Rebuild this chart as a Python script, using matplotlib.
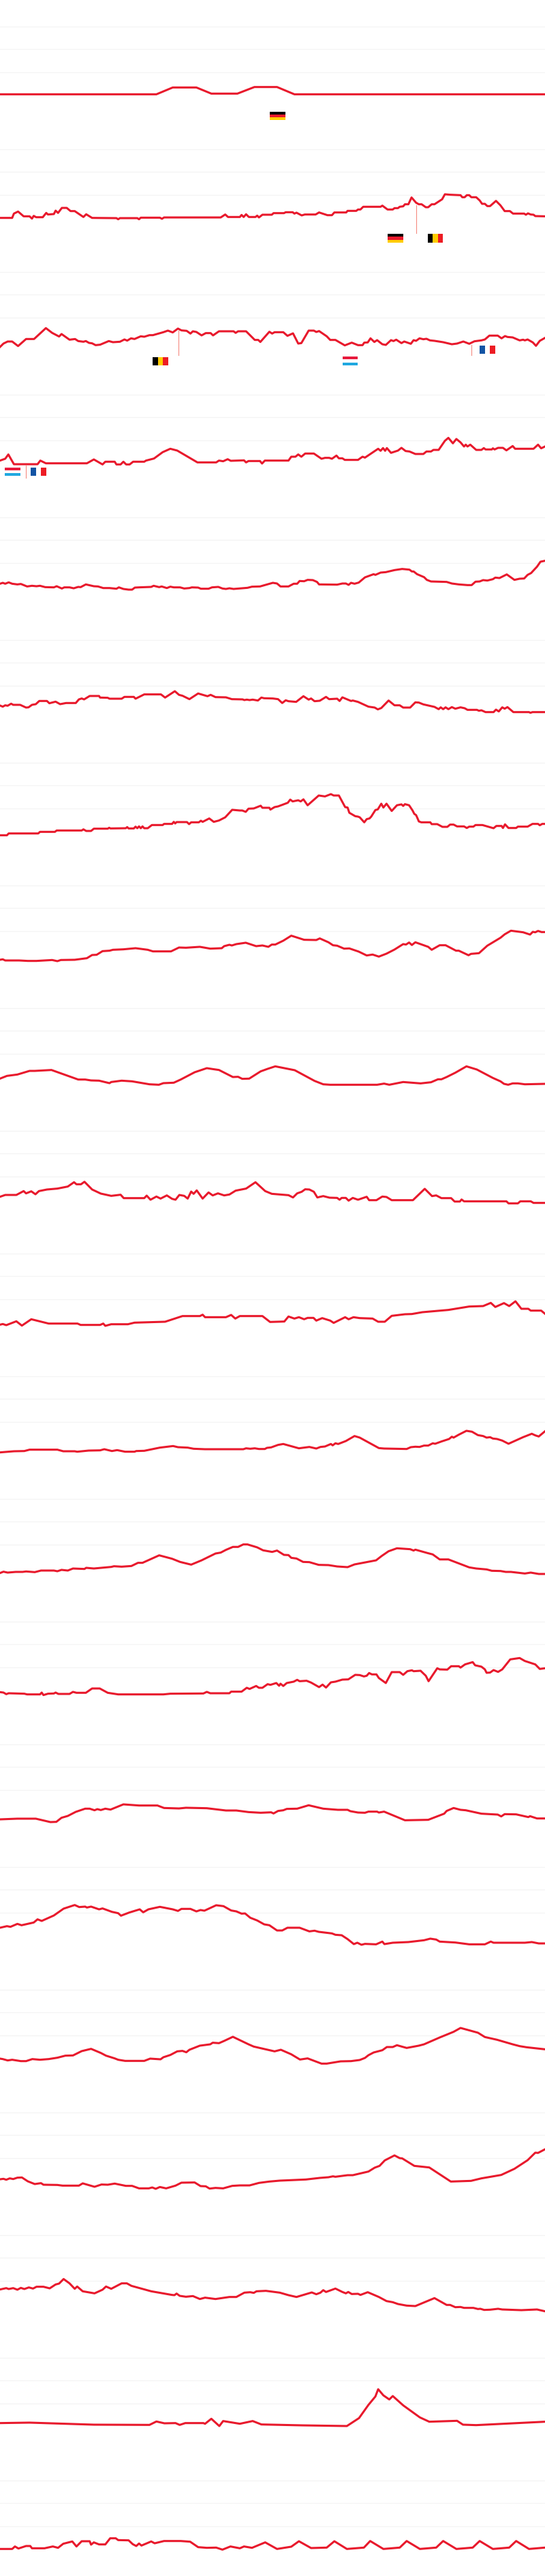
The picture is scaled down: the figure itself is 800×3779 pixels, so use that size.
import matplotlib
matplotlib.use("Agg")
import matplotlib.pyplot as plt
from matplotlib.patches import Rectangle

# one line per row, (x, value), value 0 is the lowest gridline of the row
series_01 = [(0,-98),(450,-98),(497,-68),(565,-68),(608,-95),(683,-95),(732,-66),(797,-66),(847,-98),(1568,-98)]
series_02 = [(0,-102),(35,-102),(40,-83),(52,-74),(68,-95),(85,-95),(92,-105),(97,-93),(104,-99),(123,-99),(133,-80),(138,-87),(155,-85),(160,-70),(167,-80),(178,-58),(192,-58),(203,-72),(215,-72),(240,-98),(248,-86),(265,-102),(335,-103),(340,-108),(345,-103),(395,-103),(400,-108),(405,-101),(460,-101),(466,-106),(472,-100),(635,-100),(648,-87),(656,-98),(690,-98),(695,-89),(701,-98),(708,-86),(716,-98),(735,-98),(740,-92),(745,-100),(755,-88),(782,-88),(787,-81),(817,-81),(822,-77),(842,-77),(847,-83),(853,-79),(868,-91),(877,-87),(908,-87),(918,-78),(942,-90),(955,-90),(962,-78),(996,-78),(1000,-71),(1025,-71),(1030,-65),(1037,-65),(1045,-53),(1095,-53),(1100,-48),(1115,-65),(1130,-65),(1135,-59),(1145,-59),(1150,-53),(1160,-51),(1165,-42),(1175,-42),(1184,-12),(1197,-35),(1205,-42),(1213,-42),(1225,-55),(1232,-55),(1242,-42),(1250,-42),(1272,-20),(1280,2),(1295,0),(1325,-2),(1330,-11),(1337,-11),(1343,-2),(1350,-2),(1356,-11),(1370,-11),(1380,-25),(1387,-40),(1395,-40),(1402,-50),(1410,-50),(1427,-27),(1440,-47),(1452,-72),(1467,-72),(1476,-83),(1508,-83),(1513,-88),(1519,-82),(1527,-87),(1535,-88),(1540,-94),(1568,-95)]
series_03 = [(0,-130),(10,-115),(22,-106),(35,-106),(52,-126),(75,-95),(98,-95),(132,-47),(150,-68),(170,-84),(177,-73),(200,-98),(216,-95),(225,-104),(240,-107),(247,-104),(256,-112),(265,-114),(275,-122),(288,-120),(313,-104),(325,-109),(345,-107),(358,-97),(366,-102),(377,-92),(387,-95),(405,-83),(415,-85),(430,-78),(440,-78),(470,-65),(483,-58),(497,-66),(512,-49),(522,-57),(537,-59),(548,-71),(555,-61),(565,-64),(580,-79),(592,-69),(606,-69),(613,-79),(630,-61),(672,-61),(678,-68),(685,-61),(708,-61),(733,-99),(743,-99),(749,-108),(775,-63),(783,-71),(790,-65),(815,-65),(827,-81),(843,-70),(858,-115),(867,-113),(888,-58),(903,-58),(910,-64),(918,-60),(940,-83),(950,-99),(965,-99),(992,-123),(1012,-111),(1030,-122),(1043,-122),(1048,-111),(1058,-110),(1066,-92),(1077,-108),(1085,-100),(1100,-118),(1110,-121),(1125,-100),(1132,-104),(1140,-98),(1155,-113),(1163,-106),(1182,-116),(1190,-100),(1197,-103),(1207,-92),(1218,-96),(1227,-94),(1237,-101),(1250,-103),(1275,-109),(1300,-118),(1315,-115),(1333,-106),(1350,-116),(1365,-105),(1385,-101),(1395,-97),(1408,-80),(1432,-80),(1443,-92),(1453,-82),(1460,-86),(1475,-88),(1495,-101),(1505,-98),(1510,-101),(1518,-97),(1533,-110),(1542,-125),(1553,-103),(1568,-90)]
series_04 = [(0,-90),(15,-82),(24,-63),(40,-106),(108,-106),(116,-90),(132,-102),(250,-102),(270,-85),(295,-107),(303,-95),(330,-95),(335,-107),(347,-107),(355,-95),(363,-107),(373,-107),(383,-95),(415,-95),(420,-90),(443,-81),(468,-53),(490,-38),(510,-46),(568,-98),(622,-98),(630,-90),(642,-93),(655,-84),(664,-91),(702,-89),(708,-98),(715,-92),(748,-92),(754,-103),(762,-90),(830,-90),(838,-73),(850,-73),(858,-63),(867,-73),(878,-59),(903,-59),(925,-82),(935,-78),(947,-78),(955,-82),(968,-68),(975,-80),(985,-80),(992,-87),(1030,-87),(1043,-73),(1050,-77),(1088,-38),(1095,-47),(1102,-35),(1108,-47),(1113,-35),(1125,-56),(1145,-46),(1155,-34),(1167,-48),(1178,-50),(1195,-61),(1218,-61),(1227,-50),(1240,-50),(1247,-43),(1262,-43),(1280,-3),(1290,10),(1303,-14),(1313,5),(1325,-10),(1335,-28),(1340,-20),(1345,-28),(1353,-20),(1370,-43),(1385,-43),(1392,-35),(1397,-41),(1415,-41),(1418,-36),(1423,-41),(1433,-34),(1447,-34),(1457,-45),(1475,-26),(1482,-38),(1535,-38),(1548,-20),(1557,-36),(1568,-28)]
series_05 = [(0,-92),(8,-88),(15,-92),(25,-86),(35,-92),(50,-95),(60,-93),(78,-104),(92,-101),(105,-103),(115,-101),(130,-107),(155,-108),(163,-103),(178,-113),(185,-108),(200,-108),(212,-112),(225,-106),(232,-107),(247,-95),(270,-103),(282,-104),(297,-111),(315,-111),(335,-114),(342,-108),(355,-115),(370,-118),(380,-118),(388,-109),(400,-108),(435,-106),(442,-101),(458,-107),(465,-104),(480,-111),(490,-105),(500,-108),(518,-108),(530,-113),(545,-111),(552,-108),(570,-109),(578,-114),(600,-114),(610,-108),(628,-106),(640,-113),(650,-115),(660,-112),(672,-115),(712,-110),(725,-105),(748,-104),(785,-88),(797,-91),(807,-104),(830,-104),(845,-92),(855,-92),(862,-80),(875,-81),(885,-75),(900,-76),(912,-84),(918,-95),(970,-96),(985,-91),(995,-91),(1003,-97),(1010,-88),(1020,-92),(1032,-87),(1050,-64),(1075,-50),(1080,-53),(1095,-43),(1110,-41),(1135,-32),(1157,-27),(1178,-30),(1185,-38),(1190,-38),(1200,-50),(1220,-63),(1228,-75),(1240,-82),(1285,-84),(1300,-91),(1320,-95),(1345,-98),(1357,-98),(1368,-83),(1380,-82),(1390,-76),(1402,-78),(1418,-72),(1425,-65),(1437,-67),(1458,-51),(1480,-75),(1495,-70),(1508,-69),(1518,-53),(1528,-45),(1545,-17),(1555,5),(1568,9)]
series_06 = [(0,-88),(8,-93),(15,-87),(22,-89),(32,-80),(38,-85),(58,-85),(75,-97),(82,-96),(92,-85),(103,-82),(113,-68),(135,-68),(142,-78),(160,-71),(173,-82),(190,-77),(218,-77),(227,-61),(235,-57),(242,-61),(258,-46),(285,-46),(288,-53),(310,-54),(315,-58),(350,-58),(358,-50),(385,-50),(390,-58),(415,-39),(463,-39),(475,-53),(503,-25),(515,-41),(525,-45),(545,-60),(570,-35),(597,-47),(606,-41),(620,-51),(650,-52),(667,-60),(698,-61),(703,-64),(710,-62),(718,-64),(727,-62),(742,-66),(752,-53),(760,-56),(785,-57),(800,-60),(812,-77),(822,-65),(830,-69),(852,-72),(873,-47),(888,-62),(895,-57),(905,-69),(920,-67),(938,-50),(947,-60),(970,-58),(977,-68),(985,-52),(1010,-68),(1015,-66),(1030,-72),(1060,-93),(1078,-97),(1087,-105),(1097,-99),(1118,-66),(1135,-87),(1150,-87),(1160,-97),(1180,-97),(1195,-74),(1205,-75),(1218,-83),(1250,-94),(1262,-104),(1268,-96),(1275,-104),(1282,-96),(1290,-104),(1300,-95),(1310,-102),(1325,-96),(1337,-100),(1345,-107),(1372,-107),(1378,-111),(1385,-109),(1397,-117),(1420,-117),(1427,-106),(1435,-114),(1445,-96),(1452,-102),(1460,-95),(1477,-117),(1522,-117),(1526,-120),(1532,-117),(1568,-117)]
series_07 = [(0,-119),(20,-119),(25,-111),(110,-111),(115,-104),(158,-104),(163,-98),(235,-98),(240,-93),(248,-100),(262,-100),(270,-90),(310,-90),(314,-86),(318,-89),(362,-88),(366,-83),(370,-89),(385,-89),(390,-81),(395,-88),(400,-80),(405,-88),(410,-80),(415,-88),(425,-88),(437,-74),(468,-74),(472,-69),(495,-69),(500,-60),(504,-67),(508,-61),(538,-61),(544,-70),(550,-62),(572,-62),(578,-55),(583,-60),(602,-45),(615,-60),(630,-54),(648,-40),(668,-7),(690,-10),(697,-10),(707,-16),(715,-2),(730,-1),(750,11),(755,2),(775,2),(778,-6),(790,5),(800,8),(828,24),(835,38),(842,30),(858,35),(865,30),(873,39),(885,13),(917,56),(935,52),(952,62),(960,56),(975,56),(993,5),(1000,3),(1005,-20),(1022,-35),(1030,-37),(1035,-40),(1048,-62),(1055,-48),(1063,-45),(1068,-37),(1080,-8),(1087,-5),(1097,20),(1103,3),(1112,20),(1127,-12),(1142,13),(1155,17),(1160,10),(1165,18),(1177,13),(1187,-10),(1192,-25),(1197,-30),(1200,-40),(1205,-58),(1212,-62),(1238,-62),(1242,-70),(1258,-70),(1273,-82),(1287,-82),(1295,-72),(1305,-72),(1315,-80),(1335,-80),(1343,-87),(1350,-81),(1362,-81),(1368,-74),(1388,-74),(1420,-88),(1428,-78),(1443,-78),(1447,-87),(1453,-71),(1463,-87),(1485,-87),(1490,-81),(1518,-81),(1532,-69),(1548,-69),(1553,-75),(1560,-69),(1568,-69)]
series_08 = [(0,-127),(8,-125),(15,-130),(55,-130),(80,-132),(105,-132),(150,-128),(165,-133),(175,-128),(215,-127),(250,-120),(265,-106),(278,-105),(295,-89),(315,-87),(325,-83),(355,-81),(390,-76),(425,-83),(440,-90),(492,-90),(515,-73),(535,-74),(575,-70),(605,-78),(638,-76),(645,-67),(660,-61),(667,-64),(680,-58),(707,-52),(737,-67),(755,-64),(772,-70),(782,-60),(792,-60),(815,-43),(838,-21),(875,-39),(910,-40),(920,-33),(945,-50),(958,-63),(970,-65),(990,-78),(1005,-77),(1032,-91),(1055,-108),(1072,-104),(1090,-113),(1112,-100),(1135,-82),(1160,-58),(1168,-60),(1177,-51),(1185,-62),(1195,-50),(1232,-70),(1242,-83),(1265,-63),(1282,-63),(1312,-87),(1320,-87),(1348,-107),(1355,-101),(1378,-98),(1402,-65),(1440,-30),(1452,-15),(1470,1),(1505,-6),(1525,-16),(1533,-4),(1540,-6),(1548,0),(1558,-5),(1568,-5)]
series_09 = [(0,-110),(20,-98),(50,-92),(85,-76),(100,-76),(148,-72),(225,-114),(245,-114),(262,-118),(285,-119),(315,-130),(320,-125),(350,-119),(380,-122),(430,-135),(457,-137),(470,-130),(500,-128),(520,-114),(560,-82),(595,-64),(612,-68),(630,-72),(670,-103),(685,-102),(697,-111),(717,-110),(750,-78),(770,-67),(792,-56),(848,-73),(905,-120),(930,-135),(950,-137),(1085,-137),(1105,-132),(1120,-137),(1160,-125),(1210,-131),(1240,-126),(1260,-113),(1270,-113),(1285,-103),(1310,-84),(1342,-56),(1372,-70),(1418,-107),(1440,-122),(1450,-133),(1462,-137),(1475,-131),(1490,-131),(1510,-135),(1568,-133)]
series_10 = [(0,-90),(15,-82),(47,-82),(68,-65),(75,-75),(90,-66),(102,-79),(112,-65),(135,-58),(165,-54),(195,-45),(213,-26),(220,-35),(233,-35),(243,-24),(265,-58),(290,-76),(320,-86),(347,-81),(356,-96),(415,-96),(422,-85),(433,-103),(450,-89),(462,-98),(480,-84),(495,-99),(505,-103),(516,-82),(530,-86),(540,-98),(550,-67),(557,-77),(566,-62),(583,-98),(600,-71),(612,-84),(627,-75),(645,-84),(660,-80),(678,-63),(708,-54),(735,-26),(763,-65),(782,-77),(830,-83),(843,-93),(855,-75),(868,-68),(878,-57),(890,-58),(903,-68),(913,-93),(930,-87),(948,-94),(970,-95),(977,-103),(983,-95),(995,-95),(1003,-107),(1015,-95),(1030,-103),(1055,-90),(1062,-105),(1083,-105),(1100,-89),(1112,-91),(1127,-105),(1188,-105),(1222,-55),(1243,-87),(1255,-84),(1270,-96),(1298,-96),(1308,-111),(1323,-111),(1328,-102),(1335,-110),(1457,-110),(1463,-119),(1490,-119),(1497,-110),(1527,-110),(1535,-117),(1568,-117)]
series_11 = [(0,-113),(8,-110),(18,-115),(47,-98),(63,-117),(90,-89),(140,-108),(223,-108),(232,-114),(288,-114),(297,-108),(303,-118),(320,-111),(368,-111),(387,-104),(475,-100),(525,-75),(575,-75),(583,-69),(590,-80),(650,-80),(665,-70),(677,-86),(690,-75),(755,-75),(777,-101),(818,-99),(830,-77),(847,-86),(860,-80),(875,-89),(885,-83),(902,-83),(910,-95),(927,-84),(950,-95),(960,-105),(993,-80),(1003,-89),(1017,-80),(1035,-84),(1072,-86),(1088,-100),(1107,-100),(1127,-74),(1165,-67),(1185,-66),(1215,-58),(1290,-48),(1350,-33),(1390,-31),(1412,-17),(1425,-35),(1450,-18),(1465,-31),(1483,-10),(1500,-43),(1520,-43),(1527,-51),(1557,-51),(1568,-65)]
series_12 = [(0,-135),(40,-130),(70,-129),(85,-123),(165,-123),(182,-130),(215,-130),(222,-132),(255,-127),(288,-126),(300,-121),(322,-129),(337,-125),(360,-132),(387,-132),(392,-129),(415,-128),(460,-114),(498,-107),(512,-112),(540,-114),(557,-119),(590,-121),(700,-121),(708,-117),(720,-119),(733,-117),(745,-120),(762,-120),(768,-115),(780,-113),(800,-102),(815,-98),(860,-117),(890,-111),(910,-118),(922,-111),(935,-109),(952,-98),(957,-104),(965,-95),(973,-98),(995,-85),(1020,-63),(1035,-70),(1090,-116),(1105,-118),(1170,-120),(1182,-112),(1195,-110),(1207,-111),(1220,-105),(1232,-105),(1245,-95),(1252,-97),(1270,-87),(1292,-76),(1300,-66),(1305,-70),(1320,-57),(1342,-40),(1358,-44),(1375,-59),(1390,-63),(1400,-70),(1410,-68),(1418,-74),(1430,-76),(1445,-83),(1463,-97),(1505,-68),(1530,-53),(1540,-60),(1550,-65),(1568,-42)]
series_13 = [(0,-126),(10,-120),(22,-124),(45,-121),(65,-121),(75,-119),(100,-122),(118,-115),(155,-115),(165,-118),(177,-112),(195,-115),(210,-106),(243,-108),(248,-103),(270,-106),(320,-99),(328,-96),(350,-98),(378,-95),(397,-81),(410,-81),(458,-48),(495,-63),(518,-77),(550,-89),(580,-70),(620,-40),(635,-36),(650,-24),(670,-11),(685,-11),(700,0),(712,0),(740,-13),(757,-26),(783,-33),(797,-27),(817,-46),(830,-47),(838,-59),(853,-62),(872,-77),(890,-78),(917,-90),(945,-91),(970,-97),(1000,-100),(1020,-88),(1082,-70),(1098,-51),(1118,-30),(1142,-17),(1180,-21),(1190,-27),(1195,-23),(1230,-38),(1245,-44),(1265,-66),(1290,-66),(1350,-101),(1370,-106),(1400,-110),(1415,-116),(1440,-117),(1455,-121),(1470,-121),(1510,-128),(1527,-124),(1550,-130),(1568,-130)]
series_14 = [(0,-110),(10,-112),(18,-119),(25,-115),(70,-117),(78,-120),(115,-120),(120,-112),(125,-123),(138,-117),(155,-116),(160,-112),(168,-118),(200,-118),(210,-109),(220,-113),(247,-113),(265,-94),(287,-94),(310,-113),(340,-120),(470,-120),(490,-117),(585,-116),(595,-109),(605,-115),(660,-115),(665,-108),(695,-108),(710,-91),(718,-96),(737,-83),(745,-91),(755,-91),(770,-75),(778,-78),(795,-70),(803,-82),(807,-73),(815,-83),(825,-70),(845,-64),(855,-56),(862,-62),(882,-60),(895,-68),(918,-88),(928,-77),(938,-90),(952,-67),(965,-64),(985,-55),(1002,-54),(1022,-34),(1035,-35),(1047,-41),(1055,-38),(1062,-26),(1070,-32),(1083,-32),(1090,-48),(1110,-70),(1127,-22),(1150,-22),(1160,-34),(1172,-18),(1185,-14),(1190,-18),(1210,-16),(1225,-38),(1233,-62),(1258,-5),(1265,-10),(1287,-11),(1298,4),(1320,4),(1325,-2),(1338,12),(1360,22),(1367,8),(1385,2),(1395,-10),(1400,-25),(1410,-24),(1420,-13),(1433,-21),(1445,-10),(1468,34),(1495,40),(1510,27),(1540,12),(1553,-8),(1568,-5)]
series_15 = [(0,-130),(50,-127),(103,-127),(145,-142),(162,-141),(177,-123),(195,-115),(218,-97),(245,-83),(258,-83),(272,-90),(280,-85),(290,-89),(303,-83),(318,-87),(355,-64),(400,-69),(453,-69),(472,-80),(515,-82),(535,-79),(595,-81),(650,-91),(680,-91),(715,-98),(750,-101),(780,-99),(787,-104),(800,-93),(815,-90),(825,-84),(855,-83),(888,-68),(930,-83),(972,-88),(1000,-88),(1008,-94),(1030,-100),(1050,-101),(1060,-96),(1085,-96),(1090,-100),(1105,-96),(1165,-134),(1232,-132),(1278,-105),(1285,-93),(1305,-80),(1325,-88),(1340,-90),(1385,-105),(1432,-109),(1442,-117),(1452,-107),(1485,-108),(1520,-120),(1525,-116),(1545,-126),(1568,-126)]
series_16 = [(0,-67),(20,-60),(30,-63),(50,-50),(62,-56),(97,-44),(108,-30),(120,-37),(155,-13),(183,17),(215,33),(228,24),(245,26),(250,22),(262,26),(285,14),(295,18),(322,3),(340,-3),(348,-14),(372,0),(402,14),(412,1),(427,14),(460,25),(497,14),(512,7),(522,16),(548,16),(565,5),(577,11),(588,8),(622,32),(643,28),(665,9),(680,5),(695,-5),(705,-4),(720,-23),(740,-35),(760,-52),(775,-56),(797,-79),(812,-79),(827,-67),(862,-67),(890,-83),(905,-80),(917,-85),(955,-92),(965,-98),(983,-100),(1000,-117),(1018,-139),(1028,-133),(1040,-142),(1050,-138),(1082,-140),(1100,-128),(1106,-139),(1130,-133),(1175,-130),(1220,-122),(1238,-115),(1255,-119),(1265,-128),(1310,-132),(1350,-140),(1395,-140),(1412,-128),(1420,-133),(1510,-133),(1530,-130),(1550,-136),(1568,-136)]
series_17 = [(0,-103),(8,-105),(22,-111),(35,-108),(60,-114),(75,-114),(93,-105),(115,-108),(140,-105),(165,-99),(188,-90),(210,-89),(235,-70),(262,-60),(290,-78),(305,-90),(330,-102),(340,-108),(360,-113),(415,-113),(432,-103),(462,-106),(470,-97),(490,-87),(510,-71),(525,-69),(536,-75),(545,-64),(575,-46),(605,-40),(612,-33),(630,-35),(645,-25),(670,-7),(715,-40),(730,-50),(790,-71),(808,-64),(838,-84),(863,-107),(885,-102),(925,-125),(940,-125),(980,-115),(1010,-114),(1035,-109),(1050,-100),(1060,-88),(1075,-76),(1100,-66),(1113,-52),(1130,-52),(1142,-44),(1170,-56),(1205,-46),(1220,-40),(1265,-10),(1305,15),(1325,32),(1375,11),(1395,-8),(1430,-20),(1475,-40),(1495,-48),(1515,-53),(1568,-62)]
series_18 = [(0,-94),(10,-92),(18,-96),(28,-90),(38,-93),(50,-87),(63,-86),(80,-103),(100,-115),(118,-111),(125,-118),(165,-119),(180,-122),(227,-122),(238,-112),(272,-127),(292,-117),(310,-118),(330,-113),(362,-123),(380,-123),(400,-134),(428,-134),(438,-130),(448,-136),(460,-128),(478,-134),(505,-122),(522,-109),(560,-108),(577,-124),(592,-125),(603,-135),(620,-132),(642,-134),(668,-123),(690,-121),(718,-121),(745,-110),(775,-104),(805,-100),(880,-95),(920,-88),(945,-85),(958,-81),(965,-83),(1000,-76),(1015,-76),(1060,-60),(1078,-43),(1092,-35),(1107,-11),(1135,11),(1150,-1),(1157,-2),(1192,-35),(1235,-42),(1297,-104),(1355,-101),(1385,-90),(1442,-75),(1480,-48),(1518,-10),(1540,23),(1548,22),(1568,38)]
series_19 = [(0,-39),(18,-33),(25,-37),(38,-33),(50,-40),(60,-32),(70,-37),(83,-30),(95,-35),(105,-27),(125,-27),(143,-34),(160,-17),(170,-13),(183,7),(200,-12),(215,-36),(222,-26),(238,-47),(272,-56),(295,-40),(305,-26),(320,-36),(350,-12),(365,-12),(378,-23),(435,-47),(495,-63),(502,-64),(508,-57),(517,-67),(535,-71),(555,-68),(575,-81),(590,-75),(620,-81),(660,-72),(680,-72),(703,-53),(720,-51),(730,-54),(738,-47),(765,-45),(805,-53),(830,-64),(853,-72),(897,-52),(910,-60),(922,-53),(930,-42),(938,-50),(965,-35),(985,-50),(995,-56),(1002,-50),(1012,-59),(1030,-58),(1037,-63),(1058,-51),(1090,-72),(1112,-90),(1130,-95),(1145,-103),(1170,-110),(1195,-112),(1250,-77),(1285,-107),(1295,-107),(1310,-117),(1325,-116),(1335,-120),(1362,-120),(1375,-125),(1382,-124),(1393,-129),(1410,-128),(1433,-124),(1445,-127),(1500,-130),(1545,-127),(1568,-135)]
series_20 = [(0,-87),(85,-85),(270,-94),(430,-95),(450,-80),(473,-88),(505,-87),(517,-95),(533,-87),(585,-87),(590,-90),(608,-68),(631,-100),(642,-78),(690,-90),(727,-78),(752,-93),(870,-97),(998,-100),(1033,-65),(1060,-7),(1080,30),(1088,62),(1103,35),(1120,17),(1130,32),(1160,-9),(1208,-62),(1235,-81),(1315,-77),(1332,-94),(1370,-96),(1568,-81)]
series_21 = [(0,-101),(35,-101),(43,-90),(53,-99),(75,-88),(87,-88),(92,-98),(128,-98),(152,-90),(167,-96),(182,-78),(208,-68),(220,-90),(235,-67),(258,-67),(262,-82),(270,-72),(285,-81),(303,-81),(317,-54),(333,-54),(340,-62),(370,-63),(382,-80),(392,-88),(400,-77),(407,-86),(435,-68),(445,-76),(472,-66),(520,-66),(547,-69),(570,-93),(595,-96),(622,-95),(640,-104),(663,-90),(690,-98),(702,-90),(725,-96),(763,-72),(797,-101),(838,-91),(860,-67),(895,-97),(940,-95),(962,-67),(998,-101),(1047,-95),(1065,-66),(1103,-101),(1150,-95),(1170,-66),(1208,-101),(1255,-95),(1275,-66),(1313,-101),(1360,-95),(1380,-66),(1418,-101),(1465,-95),(1485,-66),(1522,-101),(1568,-95)]

all_series = [series_01, series_02, series_03, series_04, series_05, series_06, series_07,
              series_08, series_09, series_10, series_11, series_12, series_13, series_14,
              series_15, series_16, series_17, series_18, series_19, series_20, series_21]

grid_levels = [0, 100, 200]

# row, x, top value of the flag
flags = [(0, 777, -175, "de"), (1, 1116, -173, "de"), (1, 1230, -173, "be"), (2, 440, -174, "be"),
         (2, 985, -173, "lu"), (2, 1380, -123, "fr"), (3, 14, -121, "lu"), (3, 89, -121, "fr")]
# row, x, from, to
stems = [(1, 1197, -45, -168), (2, 513, -58, -165), (2, 1356, -120, -166), (3, 74, -112, -165)]

flag_colors = {"de": ("h", ["#000000", "#E8192C", "#FFCC00"]),
               "lu": ("h", ["#E8193C", "#FFFFFF", "#1FA8E0"]),
               "be": ("v", ["#000000", "#FFCC00", "#ED1C24"]),
               "fr": ("v", ["#1254A4", "#FFFFFF", "#ED1C24"])}


def draw_flag(ax, x, top, name, w=44, h=37):
    kind, cols = flag_colors[name]
    for i, c in enumerate(cols):
        if kind == "h":
            ax.add_patch(Rectangle((x, top - (i + 1) * h / 3), w, h / 3, color=c, lw=0, zorder=4))
        else:
            ax.add_patch(Rectangle((x + i * w / 3, top - h), w / 3, h, color=c, lw=0, zorder=4))


fig = plt.figure(figsize=(8, 37.8), dpi=100)
n = len(all_series)
axes = []
for i, s in enumerate(all_series):
    ax = fig.add_axes([0, 1 - (i + 1) / n, 1, 1 / n])
    ax.set_xlim(0, 1568)
    ax.set_ylim(-220, 320)
    ax.set_yticks(grid_levels)
    ax.set_xticks([])
    ax.tick_params(left=False, labelleft=False)
    ax.grid(True, axis="y", color="#f4f4f4", lw=0.9)
    ax.set_axisbelow(True)
    for sp in ax.spines.values():
        sp.set_visible(False)
    ax.patch.set_alpha(0)
    xs = [p[0] for p in s]
    ys = [p[1] for p in s]
    ax.plot(xs, ys, color="#E8192C", lw=2.2, solid_joinstyle="round", zorder=3)
    axes.append(ax)

for row, x, y0, y1 in stems:
    axes[row].plot([x, x], [y0, y1], color="#F58A80", lw=0.8, zorder=2)
for row, x, top, name in flags:
    draw_flag(axes[row], x, top, name)

fig.savefig("out.png", dpi=100, facecolor="white")
